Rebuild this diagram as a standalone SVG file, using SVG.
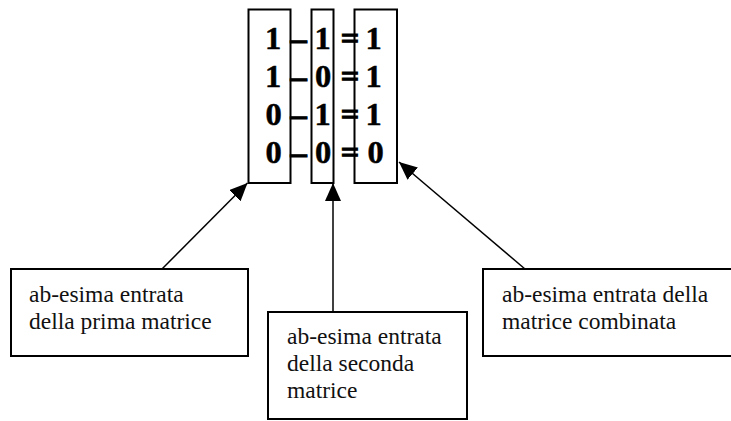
<svg xmlns="http://www.w3.org/2000/svg" width="731" height="421" viewBox="0 0 731 421">
  <style>
    .box { fill: #ffffff; stroke: #000000; stroke-width: 2; }
    .col { fill: none; stroke: #000000; stroke-width: 2; }
    .digit { font-family: "Liberation Serif", "Times New Roman", serif; font-weight: bold; font-size: 32.5px; fill: #000000; stroke: #000000; stroke-width: 0.5; text-anchor: middle; }
    .op { stroke-width: 1.1; }
    .label { font-family: "Liberation Serif", "Times New Roman", serif; font-size: 23.5px; fill: #111111; }
    .link { fill: none; stroke: #000000; stroke-width: 1.5; marker-end: url(#head); }
  </style>
  <defs>
    <marker id="head" viewBox="0 -8 18 16" refX="18" refY="0" markerWidth="18" markerHeight="16" markerUnits="userSpaceOnUse" orient="auto">
      <path d="M0,-8 L18,0 L0,8 z" fill="#000000"/>
    </marker>
  </defs>

  <!-- first matrix column -->
  <g id="col-first">
    <rect class="col" x="248.5" y="9.5" width="42" height="173.5"/>
    <text class="digit" x="273" y="48.5">1</text>
    <text class="digit" x="273" y="86.5">1</text>
    <text class="digit" x="273.5" y="124.5">0</text>
    <text class="digit" x="273.5" y="162.5">0</text>
  </g>

  <!-- second matrix column -->
  <g id="col-second">
    <rect class="col" x="311.5" y="9.5" width="22" height="173.5"/>
    <text class="digit" x="322.5" y="48.5">1</text>
    <text class="digit" x="323" y="86.5">0</text>
    <text class="digit" x="322.5" y="124.5">1</text>
    <text class="digit" x="323" y="162.5">0</text>
  </g>

  <!-- combined matrix column -->
  <g id="col-result">
    <rect class="col" x="354.5" y="9.5" width="42.5" height="173.5"/>
    <text class="digit" x="373.5" y="48.5">1</text>
    <text class="digit" x="373.5" y="86.5">1</text>
    <text class="digit" x="373.5" y="124.5">1</text>
    <text class="digit" x="375.5" y="162.5">0</text>
  </g>

  <!-- operators between the columns -->
  <g id="operators">
    <text class="digit op" x="298.5" y="48.5">–</text>
    <text class="digit op" x="298.5" y="86.5">–</text>
    <text class="digit op" x="298.5" y="124.5">–</text>
    <text class="digit op" x="298.5" y="162.5">–</text>
    <text class="digit op" x="350" y="48.5">=</text>
    <text class="digit op" x="350" y="86.5">=</text>
    <text class="digit op" x="350" y="124.5">=</text>
    <text class="digit op" x="350" y="162.5">=</text>
  </g>

  <!-- connectors -->
  <g id="connectors">
    <line class="link" x1="162" y1="269" x2="247.5" y2="183"/>
    <line class="link" x1="333" y1="312" x2="333" y2="183"/>
    <line class="link" x1="525" y1="269" x2="399" y2="162"/>
  </g>

  <g id="note-first">
    <rect class="box" x="11" y="269" width="237" height="87"/>
    <text class="label" x="29" y="301.5">ab-esima entrata</text>
    <text class="label" x="29" y="328.5">della prima matrice</text>
  </g>

  <g id="note-second">
    <rect class="box" x="268" y="312" width="199" height="107"/>
    <text class="label" x="287" y="343.5">ab-esima entrata</text>
    <text class="label" x="287" y="370.5">della seconda</text>
    <text class="label" x="287" y="397.5">matrice</text>
  </g>

  <g id="note-result">
    <rect class="box" x="483" y="269" width="260" height="87"/>
    <text class="label" x="502" y="301.5">ab-esima entrata della</text>
    <text class="label" x="502" y="328.5">matrice combinata</text>
  </g>
</svg>
